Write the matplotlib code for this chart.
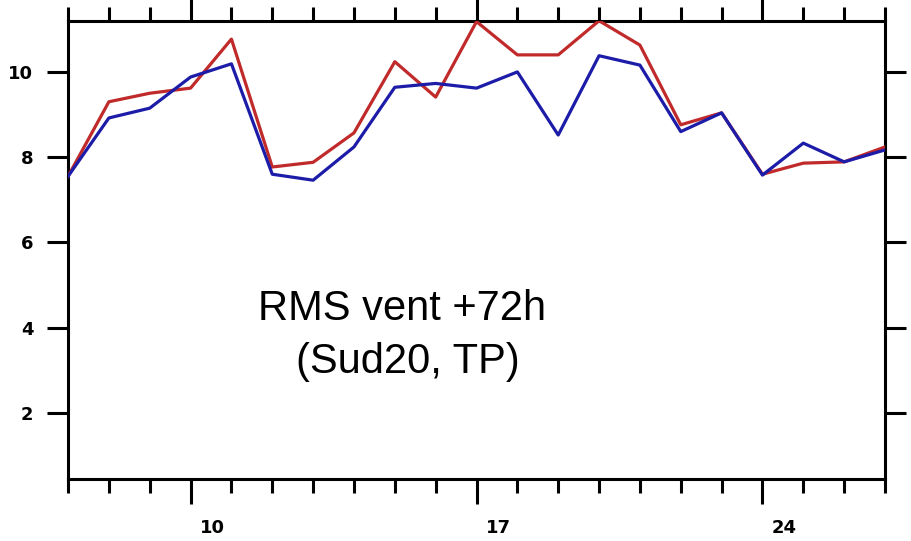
import matplotlib
matplotlib.use("Agg")
import matplotlib.pyplot as plt
import matplotlib.transforms as mtransforms
from matplotlib.ticker import MultipleLocator

# Days of the month
days = list(range(7, 28))

# RMS wind error +72h, two runs
rms_red = [7.55, 9.3, 9.5, 9.62, 10.77, 7.77, 7.88, 8.57, 10.24, 9.41, 11.18,
           10.4, 10.4, 11.2, 10.63, 8.76, 9.04, 7.6, 7.86, 7.89, 8.24]
rms_blue = [7.55, 8.92, 9.15, 9.88, 10.19, 7.6, 7.46, 8.24, 9.64, 9.73, 9.62,
            10.0, 8.52, 10.38, 10.16, 8.6, 9.04, 7.58, 8.33, 7.89, 8.17]

x_major = [10, 17, 24]
y_major = [2, 4, 6, 8, 10]

fig = plt.figure(figsize=(9.12, 5.41), dpi=100)
axis = fig.add_axes([0.0746, 0.1146, 0.8958, 0.847])

axis.plot(days, rms_red, color="#c02a2a", linewidth=2.3, zorder=3)
axis.plot(days, rms_blue, color="#1c1ca8", linewidth=2.3, zorder=3)

axis.set_xlim(7, 27)
axis.set_ylim(0.45, 11.2)

axis.set_xticks(x_major)
axis.xaxis.set_minor_locator(MultipleLocator(1))
axis.set_yticks(y_major)
axis.set_yticklabels([str(v) for v in y_major])

for s in axis.spines.values():
    s.set_linewidth(2.2)

axis.tick_params(axis="x", which="major", direction="out", length=18, width=2.2,
                 top=True, bottom=True, labelsize=13, pad=11)
axis.tick_params(axis="x", which="minor", direction="out", length=10, width=2.2,
                 top=True, bottom=True)
axis.tick_params(axis="y", which="major", direction="out", length=15, width=2.2,
                 left=True, right=True, labelsize=13, pad=10)

# x labels sit a little right of their ticks in the original
shift = mtransforms.ScaledTranslation(22 / 100, 0, fig.dpi_scale_trans)
for lab in axis.get_xticklabels():
    lab.set_fontweight("bold")
    lab.set_transform(lab.get_transform() + shift)
for lab in axis.get_yticklabels():
    lab.set_fontweight("bold")

axis.text(0.409, 0.347, "RMS vent +72h", transform=axis.transAxes,
          ha="center", va="baseline", fontsize=30, family="Liberation Sans")
axis.text(0.4155, 0.231, "(Sud20, TP)", transform=axis.transAxes,
          ha="center", va="baseline", fontsize=30, family="Liberation Sans")

fig.savefig("out.png", dpi=100)
